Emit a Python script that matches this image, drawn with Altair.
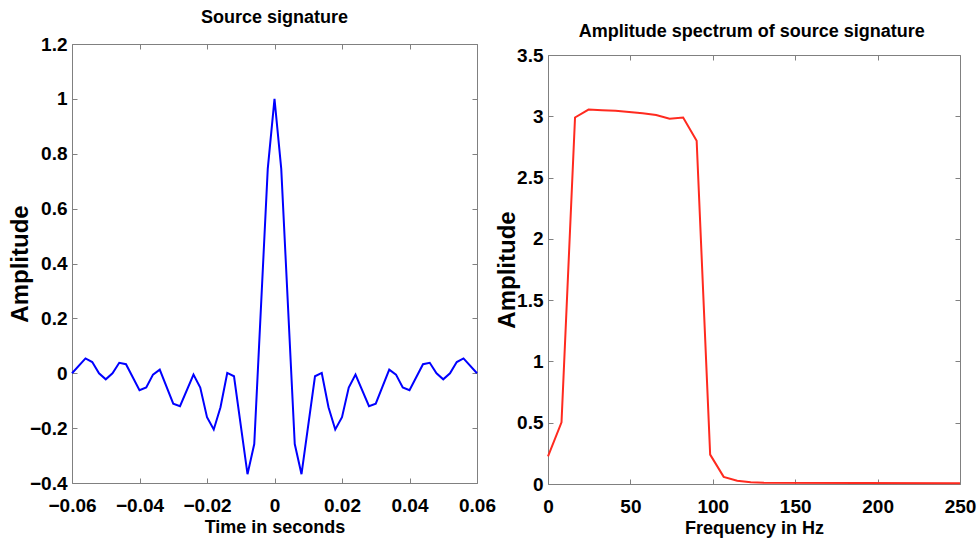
import altair as alt
import pandas as pd

# ---- data ----
time_s = [-0.060, -0.056, -0.054, -0.052, -0.050, -0.048, -0.046, -0.044, -0.040, -0.038,
          -0.036, -0.034, -0.030, -0.028, -0.024, -0.022, -0.020, -0.018, -0.016, -0.014,
          -0.012, -0.008, -0.006, -0.002, 0.000,
          0.002, 0.006, 0.008, 0.012, 0.014, 0.016, 0.018, 0.020, 0.022, 0.024,
          0.028, 0.030, 0.034, 0.036, 0.038, 0.040, 0.044, 0.046, 0.048, 0.050,
          0.052, 0.054, 0.056, 0.060]
amplitude = [0.000, 0.054, 0.041, 0.000, -0.022, 0.000, 0.038, 0.033, -0.062, -0.052,
             -0.005, 0.013, -0.111, -0.120, -0.005, -0.052, -0.160, -0.205, -0.124, 0.001,
             -0.011, -0.368, -0.258, 0.745, 1.000,
             0.745, -0.258, -0.368, -0.011, 0.001, -0.124, -0.205, -0.160, -0.052, -0.005,
             -0.120, -0.111, 0.013, -0.005, -0.052, -0.062, 0.033, 0.038, 0.000, -0.022,
             0.000, 0.041, 0.054, 0.000]

freq_hz = [0, 8.2, 16.4, 24.6, 32.8, 41.0, 49.2, 57.4, 65.6, 73.8, 82.0, 90.2,
           98.4, 106.6, 114.8, 123.0, 131.1, 250.0]
spectrum = [0.226, 0.503, 2.99, 3.055, 3.05, 3.045, 3.035, 3.025, 3.01, 2.98, 2.99, 2.80,
            0.24, 0.058, 0.027, 0.014, 0.010, 0.006]

x1_ticks = [-0.06, -0.04, -0.02, 0, 0.02, 0.04, 0.06]
y1_ticks = [-0.4, -0.2, 0, 0.2, 0.4, 0.6, 0.8, 1, 1.2]
x2_ticks = [0, 50, 100, 150, 200, 250]
y2_ticks = [0, 0.5, 1, 1.5, 2, 2.5, 3, 3.5]

df1 = pd.DataFrame({"t": time_s, "amp": amplitude})
df2 = pd.DataFrame({"f": freq_hz, "amp": spectrum})

FONT = "Liberation Sans"
GRAY = "#808080"
LABEL_SIZE = 19


def axis(ticks, orient, title=None, labels=True, title_size=18, title_pad=0, label_pad=5):
    kw = dict(values=ticks, orient=orient, offset=-5, tickSize=5, domain=False, grid=False,
              tickColor=GRAY, tickWidth=1, labels=labels, format="~f")
    if labels:
        kw.update(labelFont=FONT, labelFontSize=LABEL_SIZE, labelFontWeight="bold",
                  labelColor="black", labelPadding=label_pad, labelFlush=False,
                  labelOverlap=False)
    if title is not None:
        kw.update(title=title, titleFont=FONT, titleFontSize=title_size,
                  titleFontWeight="bold", titleColor="black", titlePadding=title_pad)
    else:
        kw.update(title=None)
    return alt.Axis(**kw)


def panel(df, xf, xdom, xt, xtitle, ydom, yt, color, width, height):
    xs = alt.Scale(domain=xdom, nice=False, zero=False)
    ys = alt.Scale(domain=ydom, nice=False, zero=False)
    main = alt.Chart(df).mark_line(color=color, strokeWidth=2).encode(
        x=alt.X(f"{xf}:Q", scale=xs,
                axis=axis(xt, "bottom", xtitle, title_size=18, title_pad=3, label_pad=13)),
        y=alt.Y("amp:Q", scale=ys,
                axis=axis(yt, "left", "Amplitude", title_size=24, title_pad=-3, label_pad=5)),
    )
    frame = alt.Chart(df).mark_line(opacity=0).encode(
        x=alt.X(f"{xf}:Q", axis=axis(xt, "top", labels=False)),
        y=alt.Y("amp:Q", axis=axis(yt, "right", labels=False)),
    )
    return alt.layer(frame, main).resolve_axis(x="independent", y="independent").properties(
        width=width, height=height)


def title(text, offset, dx=0):
    return alt.TitleParams(text, font=FONT, fontSize=18, fontWeight="bold", color="black",
                           anchor="middle", offset=offset, dx=dx)


left = panel(df1, "t", [-0.06, 0.06], x1_ticks, "Time in seconds", [-0.4, 1.2], y1_ticks,
             "#0000ff", 405, 439).properties(title=title("Source signature", 8))

right_plot = panel(df2, "f", [0, 250], x2_ticks, "Frequency in Hz", [0, 3.5], y2_ticks,
                   "#ff2a1f", 412, 429)

# invisible spacer that lowers the spectrum panel below the signature panel
spacer = alt.Chart(df2).mark_point(opacity=0).encode(
    x=alt.X("f:Q", axis=None), y=alt.Y("amp:Q", axis=None)
).properties(width=412, height=1, view=alt.ViewBackground(stroke="transparent"))

right = alt.vconcat(spacer, right_plot, spacing=-4).properties(
    title=title("Amplitude spectrum of source signature", 0, dx=16))

chart = alt.hconcat(left, right, spacing=-1, bounds="full").properties(
    padding={"left": 7, "top": 8, "right": 0, "bottom": 0},
    background="white",
).configure_view(stroke=GRAY, strokeWidth=1)

chart.save("out.html", embed_options={"renderer": "svg", "actions": False})
